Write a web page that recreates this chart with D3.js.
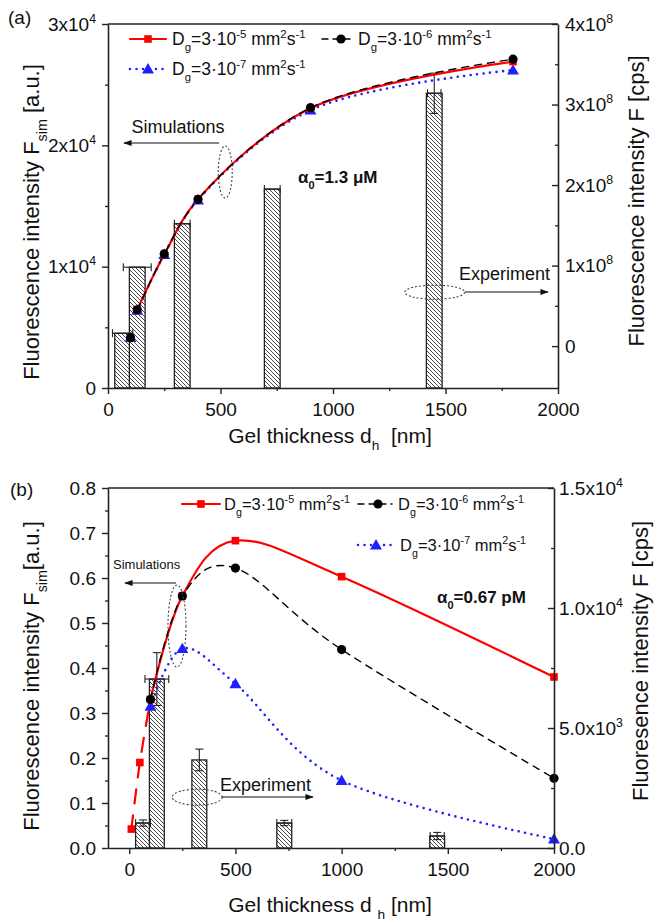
<!DOCTYPE html>
<html><head><meta charset="utf-8">
<script src="https://cdn.jsdelivr.net/npm/d3@7"></script>
<style>
body{margin:0;background:#fff}
svg{display:block}
text{font-family:"Liberation Sans",Arial,Helvetica,sans-serif;fill:#111;white-space:pre}
</style>
</head><body>
<svg id="c" width="664" height="924"></svg>
<script>
// ---------------- DATA ----------------
const barThickness = [65, 130, 330, 730, 1450];          // nm, experimental gel thicknesses
const barWidthNm = 70;
// panel (a): experiment (right axis, cps)
const expA = [0.16e8, 0.98e8, 1.52e8, 1.95e8, 3.14e8];
const expAxErr = [45, 62, 35, 35, 30];
const expAyErr = [0, 0, 0, 0, 0.25e8];
// panel (a): simulations (left axis, a.u.)
const simXA = [100, 130, 250, 400, 900, 1800];
const simA_D5 = [4150, 6450, 11000, 15550, 23050, 26900];
const simA_D6 = [4150, 6450, 11050, 15550, 23100, 27100];
const simA_D7 = [4150, 6400, 11000, 15500, 22900, 26200];
// panel (b): experiment (right axis, cps)
const expB = [1040, 7040, 3670, 1040, 500];
const expBxErr = [35, 56, 0, 35, 33];
const expByErr = [130, 1100, 450, 110, 150];
// panel (b): simulations (left axis, a.u.)
const simXB_D5 = [10, 50, 100, 250, 500, 1000, 2000];
const simB_D5 = [0.042, 0.19, 0.33, 0.56, 0.683, 0.603, 0.38];
const simXB = [100, 250, 500, 1000, 2000];
const simB_D6 = [0.33, 0.56, 0.622, 0.441, 0.155];
const simB_D7 = [0.315, 0.443, 0.365, 0.15, 0.02];

// ---------------- TICKS ----------------
const xTicks = [0, 500, 1000, 1500, 2000];
const xTickLabels = ["0", "500", "1000", "1500", "2000"];
const xMinor = [250, 750, 1250, 1750];
const aLeftTicks = [0, 1e4, 2e4, 3e4];
const aLeftLabels = [[["0"]], [["1x10"], ["4", "sup"]], [["2x10"], ["4", "sup"]], [["3x10"], ["4", "sup"]]];
const aLeftMinor = [5e3, 15e3, 25e3];
const aRightTicks = [0, 1e8, 2e8, 3e8, 4e8];
const aRightLabels = [[["0"]], [["1x10"], ["8", "sup"]], [["2x10"], ["8", "sup"]], [["3x10"], ["8", "sup"]], [["4x10"], ["8", "sup"]]];
const aRightMinor = [0.5e8, 1.5e8, 2.5e8, 3.5e8];
const bLeftTicks = [0, 0.1, 0.2, 0.3, 0.4, 0.5, 0.6, 0.7, 0.8];
const bLeftLabels = ["0.0", "0.1", "0.2", "0.3", "0.4", "0.5", "0.6", "0.7", "0.8"].map(s => [[s]]);
const bLeftMinor = [0.05, 0.15, 0.25, 0.35, 0.45, 0.55, 0.65, 0.75];
const bRightTicks = [0, 5000, 10000, 15000];
const bRightLabels = [[["0.0"]], [["5.0x10"], ["3", "sup"]], [["1.0x10"], ["4", "sup"]], [["1.5x10"], ["4", "sup"]]];
const bRightMinor = [2500, 7500, 12500];

const legendD5 = [["D"], ["g", "sub"], ["=3·10"], ["-5", "sup"], [" mm"], ["2", "sup"], ["s"], ["-1", "sup"]];
const legendD6 = [["D"], ["g", "sub"], ["=3·10"], ["-6", "sup"], [" mm"], ["2", "sup"], ["s"], ["-1", "sup"]];
const legendD7 = [["D"], ["g", "sub"], ["=3·10"], ["-7", "sup"], [" mm"], ["2", "sup"], ["s"], ["-1", "sup"]];

// ---------------- HELPERS ----------------
const FONT = '"Liberation Sans", Arial, Helvetica, sans-serif';
const svg = d3.select("#c");
const defs = svg.append("defs");
const pat = defs.append("pattern").attr("id", "hatch").attr("patternUnits", "userSpaceOnUse")
  .attr("width", 4).attr("height", 4);
pat.append("rect").attr("width", 4).attr("height", 4).attr("fill", "#fff");
pat.append("path").attr("d", "M-1,-1L5,5M-1,3L1,5M3,-1L5,1").attr("stroke", "#333").attr("stroke-width", 0.9);
defs.append("marker").attr("id", "arr").attr("viewBox", "0 0 10 10").attr("refX", 9).attr("refY", 5)
  .attr("markerWidth", 7).attr("markerHeight", 7).attr("orient", "auto")
  .append("path").attr("d", "M0,1.5L10,5L0,8.5z").attr("fill", "#111");

function rich(sel, parts, fs) {
  let cur = 0;
  parts.forEach(p => {
    const t = p[0], k = p[1] || "n";
    const off = k === "sup" ? -0.42 * fs : k === "sub" ? 0.35 * fs : 0;
    const ts = sel.append("tspan").text(t);
    if (off - cur !== 0) ts.attr("dy", off - cur);
    if (k !== "n") ts.attr("font-size", fs * 0.65);
    cur = off;
  });
}
function styleAxis(g) {
  g.select(".domain").attr("stroke", "#222").attr("stroke-width", 1.6);
  g.selectAll(".tick line").attr("stroke", "#222").attr("stroke-width", 1.4);
  g.selectAll("text").attr("fill", "#111");
}
function addAxis(parent, axis, transform, values, labels, fs) {
  axis.tickValues(values).tickSizeOuter(0).tickFormat(() => "");
  const g = parent.append("g").attr("transform", transform).call(axis);
  g.attr("font-size", fs).attr("font-family", FONT);
  styleAxis(g);
  if (labels) g.selectAll(".tick text").each(function (d, i) { rich(d3.select(this), labels[i], fs); });
  return g;
}
function addMinor(parent, axis, transform, values) {
  axis.tickValues(values).tickSizeOuter(0).tickFormat(() => "");
  const g = parent.append("g").attr("transform", transform).call(axis);
  g.select(".domain").remove();
  g.selectAll(".tick line").attr("stroke", "#222").attr("stroke-width", 1.3);
  g.selectAll("text").remove();
}
function marker(g, type, cx, cy, color) {
  if (type === "square") g.append("rect").attr("x", cx - 3.8).attr("y", cy - 3.8).attr("width", 7.6).attr("height", 7.6).attr("fill", color);
  else if (type === "circle") g.append("circle").attr("cx", cx).attr("cy", cy).attr("r", 4.6).attr("fill", color);
  else g.append("path").attr("d", d3.symbol(d3.symbolTriangle).size(62)()).attr("transform", `translate(${cx},${cy + 1})`).attr("fill", color);
}
const STY = {
  red: { color: "#ff0000", width: 2.2, dash: null, marker: "square" },
  black: { color: "#000000", width: 1.4, dash: "7,6", marker: "circle" },
  blue: { color: "#1f1fff", width: 2.6, dash: "0,6.5", marker: "triangle" }
};
function drawLine(g, xs, ys, x, y, st, dash, alpha) {
  const pts = xs.map((v, i) => [x(v), y(ys[i])]);
  g.append("path").attr("d", d3.line().curve(d3.curveCatmullRom.alpha(alpha === undefined ? 0.5 : alpha))(pts))
    .attr("fill", "none").attr("stroke", st.color).attr("stroke-width", st.width)
    .attr("stroke-linecap", "round").attr("stroke-dasharray", dash ? dash : st.dash);
}
function drawMarkers(g, xs, ys, x, y, st) {
  xs.forEach((v, i) => marker(g, st.marker, x(v), y(ys[i]), st.color));
}
function drawBars(g, x, yR, vals, xe, ye, base) {
  const w = x(barWidthNm) - x(0);
  barThickness.forEach((t, i) => {
    const cx = x(t), top = yR(vals[i]);
    g.append("rect").attr("x", cx - w / 2).attr("y", top).attr("width", w).attr("height", base - top)
      .attr("fill", "url(#hatch)").attr("stroke", "#222").attr("stroke-width", 1.3);
  });
  barThickness.forEach((t, i) => {
    const cx = x(t), top = yR(vals[i]);
    const eg = g.append("g").attr("stroke", "#222").attr("stroke-width", 1.1);
    if (xe[i] > 0) {
      const x1 = x(t - xe[i]), x2 = x(t + xe[i]);
      eg.append("line").attr("x1", x1).attr("x2", x2).attr("y1", top).attr("y2", top);
      eg.append("line").attr("x1", x1).attr("x2", x1).attr("y1", top - 4).attr("y2", top + 4);
      eg.append("line").attr("x1", x2).attr("x2", x2).attr("y1", top - 4).attr("y2", top + 4);
    }
    if (ye[i] > 0) {
      const y1 = yR(vals[i] + ye[i]), y2 = yR(vals[i] - ye[i]);
      eg.append("line").attr("x1", cx).attr("x2", cx).attr("y1", y1).attr("y2", y2);
      eg.append("line").attr("x1", cx - 4).attr("x2", cx + 4).attr("y1", y1).attr("y2", y1);
      eg.append("line").attr("x1", cx - 4).attr("x2", cx + 4).attr("y1", y2).attr("y2", y2);
    }
  });
}
function legendRow(g, x1, x2, mx, y, st, tx, parts, fs) {
  g.append("line").attr("x1", x1).attr("x2", x2).attr("y1", y).attr("y2", y)
    .attr("stroke", st.color).attr("stroke-width", st.width).attr("stroke-linecap", "round")
    .attr("stroke-dasharray", st.dash === "7,6" ? "6,5" : st.dash);
  marker(g, st.marker, mx, y, st.color);
  rich(g.append("text").attr("x", tx).attr("y", y + 6).attr("font-size", fs), parts, fs);
}
function title(g, x, y, rot, parts, fs) {
  const t = g.append("text").attr("text-anchor", "middle").attr("font-size", fs)
    .attr("transform", `translate(${x},${y})` + (rot ? " rotate(-90)" : ""));
  rich(t, parts, fs);
}
function frame(g, L, R, T, B) {
  g.append("line").attr("x1", L).attr("x2", R).attr("y1", T).attr("y2", T).attr("stroke", "#222").attr("stroke-width", 1.6);
}
function ellipse(g, cx, cy, rx, ry) {
  g.append("ellipse").attr("cx", cx).attr("cy", cy).attr("rx", rx).attr("ry", ry)
    .attr("fill", "none").attr("stroke", "#444").attr("stroke-width", 1.1).attr("stroke-dasharray", "2,2");
}
function arrow(g, x1, y1, x2, y2) {
  g.append("line").attr("x1", x1).attr("y1", y1).attr("x2", x2).attr("y2", y2)
    .attr("stroke", "#111").attr("stroke-width", 1.2).attr("marker-end", "url(#arr)");
}

// ---------------- PANEL (a) ----------------
(function () {
  const L = 108, R = 558, T = 24, B = 388;
  const x = d3.scaleLinear([0, 2000], [L, R]);
  const yL = d3.scaleLinear([0, 3e4], [B, T]);
  const yR = d3.scaleLinear([-0.52e8, 4e8], [B, T]);
  const g = svg.append("g");
  drawBars(g, x, yR, expA, expAxErr, expAyErr, B);
  drawLine(g, simXA.slice(1), simA_D7.slice(1), x, yL, STY.blue);
  drawLine(g, simXA.slice(1), simA_D5.slice(1), x, yL, STY.red);
  drawLine(g, simXA.slice(1), simA_D6.slice(1), x, yL, STY.black);
  drawMarkers(g, simXA, simA_D7, x, yL, STY.blue);
  drawMarkers(g, simXA, simA_D5, x, yL, STY.red);
  drawMarkers(g, simXA, simA_D6, x, yL, STY.black);
  frame(g, L, R, T, B);
  addMinor(g, d3.axisBottom(x).tickSize(3), `translate(0,${B})`, xMinor);
  addAxis(g, d3.axisBottom(x).tickSize(6).tickPadding(9), `translate(0,${B})`, xTicks, xTickLabels.map(s => [[s]]), 19);
  addMinor(g, d3.axisLeft(yL).tickSize(3), `translate(${L},0)`, aLeftMinor);
  addAxis(g, d3.axisLeft(yL).tickSize(6).tickPadding(6), `translate(${L},0)`, aLeftTicks, aLeftLabels, 19);
  addMinor(g, d3.axisRight(yR).tickSize(-3), `translate(${R},0)`, aRightMinor);
  addAxis(g, d3.axisRight(yR).tickSize(-6).tickPadding(7), `translate(${R},0)`, aRightTicks, aRightLabels, 19);
  g.append("text").attr("x", 8).attr("y", 24).attr("font-size", 19).text("(a)");
  title(g, 39, 222, true, [["Fluorescence intensity F"], ["sim", "sub"], [" [a.u.]"]], 22);
  title(g, 644, 201, true, [["Fluorescence intensity F [cps]"]], 22);
  title(g, 330, 443, false, [["Gel thickness d"], ["h", "sub"], ["  [nm]"]], 21);
  legendRow(g, 130, 166, 148, 39, STY.red, 172, legendD5, 17.5);
  legendRow(g, 322, 354, 341, 39, STY.black, 358, legendD6, 17.5);
  legendRow(g, 130, 166, 148, 69, STY.blue, 172, legendD7, 17.5);
  g.append("text").attr("x", 178).attr("y", 133).attr("text-anchor", "middle").attr("font-size", 18).text("Simulations");
  ellipse(g, x(521), yL(1.78e4), 7, 26);
  arrow(g, 219, 143, 124, 143);
  rich(g.append("text").attr("x", 298).attr("y", 183).attr("font-size", 17).attr("font-weight", "bold"),
    [["α"], ["0", "sub"], ["=1.3 μM"]], 17);
  g.append("text").attr("x", 459).attr("y", 280).attr("font-size", 18).text("Experiment");
  ellipse(g, x(1452), yR(0.67e8), 30, 7);
  arrow(g, 465, 292, 548, 292);
})();

// ---------------- PANEL (b) ----------------
(function () {
  const L = 108, R = 554, T = 488, B = 848;
  const x = d3.scaleLinear([-100, 2000], [L, R]);
  const yL = d3.scaleLinear([0, 0.8], [B, T]);
  const yR = d3.scaleLinear([0, 15000], [B, T]);
  const g = svg.append("g");
  drawBars(g, x, yR, expB, expBxErr, expByErr, B);
  drawLine(g, simXB, simB_D7, x, yL, STY.blue, null, 0);
  drawLine(g, simXB_D5.slice(0, 3), simB_D5.slice(0, 3), x, yL, STY.red, "14,12", 0);
  drawLine(g, simXB_D5.slice(2), simB_D5.slice(2), x, yL, STY.red, null, 0);
  drawLine(g, simXB, simB_D6, x, yL, STY.black, null, 0);
  drawMarkers(g, simXB, simB_D7, x, yL, STY.blue);
  drawMarkers(g, simXB_D5, simB_D5, x, yL, STY.red);
  drawMarkers(g, simXB, simB_D6, x, yL, STY.black);
  frame(g, L, R, T, B);
  addMinor(g, d3.axisBottom(x).tickSize(3), `translate(0,${B})`, xMinor);
  addAxis(g, d3.axisBottom(x).tickSize(6).tickPadding(9), `translate(0,${B})`, xTicks, xTickLabels.map(s => [[s]]), 19);
  addMinor(g, d3.axisLeft(yL).tickSize(3), `translate(${L},0)`, bLeftMinor);
  addAxis(g, d3.axisLeft(yL).tickSize(6).tickPadding(6), `translate(${L},0)`, bLeftTicks, bLeftLabels, 19);
  addMinor(g, d3.axisRight(yR).tickSize(-3), `translate(${R},0)`, bRightMinor);
  addAxis(g, d3.axisRight(yR).tickSize(-6).tickPadding(5), `translate(${R},0)`, bRightTicks, bRightLabels, 19);
  g.append("text").attr("x", 10).attr("y", 496).attr("font-size", 19).text("(b)");
  title(g, 39, 676, true, [["Fluorescence intensity F"], ["sim", "sub"], ["[a.u.]"]], 22);
  title(g, 648, 661, true, [["Fluoresence intensity F [cps]"]], 22);
  title(g, 330, 912, false, [["Gel thickness d "], ["h", "sub"], [" [nm]"]], 21);
  legendRow(g, 182, 220, 201, 504, STY.red, 224, legendD5, 16.5);
  legendRow(g, 358, 392, 378, 504, STY.black, 398, legendD6, 16.5);
  legendRow(g, 358, 394, 376, 545, STY.blue, 400, legendD7, 16.5);
  g.append("text").attr("x", 113).attr("y", 569).attr("font-size", 13).text("Simulations");
  ellipse(g, 177, 626, 9, 41);
  arrow(g, 176, 583, 125, 583);
  rich(g.append("text").attr("x", 437).attr("y", 603).attr("font-size", 17).attr("font-weight", "bold"),
    [["α"], ["0", "sub"], ["=0.67 pM"]], 17);
  g.append("text").attr("x", 220).attr("y", 791).attr("font-size", 18).text("Experiment");
  ellipse(g, x(320), yL(0.113), 25, 8);
  arrow(g, 222, 797, 313, 797);
})();
</script>
</body></html>
